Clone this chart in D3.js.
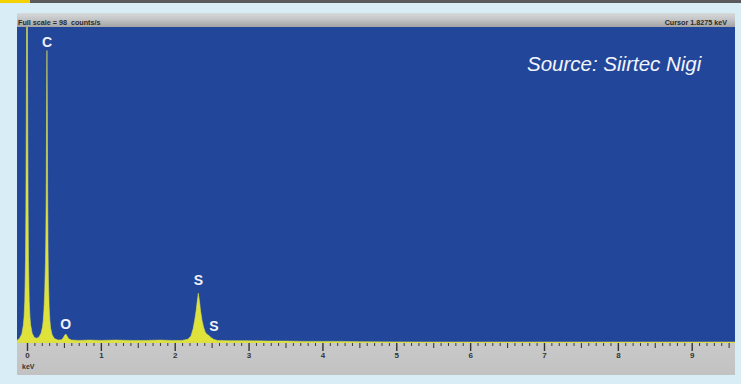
<!DOCTYPE html>
<html>
<head>
<meta charset="utf-8">
<script src="https://cdn.jsdelivr.net/npm/d3@7/dist/d3.min.js"></script>
<style>
  html, body { margin: 0; padding: 0; background: #d9edf7; }
  svg { display: block; }
</style>
</head>
<body>
<svg id="chart" width="741" height="384"></svg>
<script>
// EDS spectrum: energy (keV) and intensity (counts/s)
const spectrumKeV = [
  -0.135, -0.10, -0.07, -0.05, -0.04, -0.03, -0.02, -0.015, -0.01, -0.005,
  0.0, 0.005, 0.01, 0.015, 0.02, 0.03, 0.04, 0.05, 0.07, 0.10,
  0.13, 0.16, 0.19, 0.21, 0.22, 0.23, 0.24, 0.25, 0.255, 0.26,
  0.265, 0.27, 0.275, 0.28, 0.285, 0.29, 0.30, 0.31, 0.32, 0.34,
  0.37, 0.42, 0.47, 0.49, 0.51, 0.525, 0.54, 0.56, 0.60, 0.70,
  0.85, 1.0, 1.2, 1.4, 1.6, 1.8, 1.95, 2.10, 2.18, 2.22,
  2.25, 2.27, 2.29, 2.305, 2.32, 2.335, 2.35, 2.37, 2.39, 2.41,
  2.43, 2.46, 2.49, 2.53, 2.58, 2.75, 3.0, 3.25, 3.5, 3.75,
  4.0, 4.25, 4.5, 5.0, 5.5, 6.0, 6.5, 7.0, 7.5, 8.0,
  8.5, 9.0, 9.6
];
const spectrumCps = [
  0.8, 1.5, 2.8, 5.5, 8, 13, 26, 42, 68, 104,
  130, 104, 68, 42, 26, 13, 8, 5.5, 3.0, 1.7,
  1.5, 1.8, 3.0, 5.0, 7, 10.5, 16, 25, 33, 46,
  72, 91, 72, 45, 29, 20, 11, 7, 4.6, 2.6,
  1.4, 0.9, 1.0, 1.6, 2.4, 2.8, 2.3, 1.4, 0.9, 0.8,
  0.9, 0.8, 0.9, 0.8, 0.8, 0.9, 0.8, 0.8, 1.2, 2.2,
  4.5, 7, 10, 13, 15.5, 13, 10, 7, 5, 3.6,
  2.8, 2.4, 1.7, 1.1, 0.8, 0.7, 0.7, 0.6, 0.6, 0.5,
  0.5, 0.5, 0.4, 0.35, 0.3, 0.3, 0.3, 0.3, 0.3, 0.3,
  0.3, 0.3, 0.3
];

// Element line labels
const peakLabels = ["C", "O", "S", "S"];
const peakLabelKeV = [0.27, 0.525, 2.32, 2.53];
const peakLabelCps = [91, 2.8, 15.5, 2.4];

// Axis ticks
const majorTicks = [0, 1, 2, 3, 4, 5, 6, 7, 8, 9];
const halfTicks = [0.5, 1.5, 2.5, 3.5, 4.5, 5.5, 6.5, 7.5, 8.5, 9.5];
const minorTicks = d3.range(0, 96).map(i => i / 10).filter(v => Math.abs(v * 2 - Math.round(v * 2)) > 0.01);

const fullScale = 98;
const headerLeft = "Full scale = 98  counts/s";
const headerRight = "Cursor 1.8275 keV";
const axisUnit = "keV";
const sourceText = "Source: Siirtec Nigi";

const svg = d3.select("#chart");

// frame geometry
const left = 17, right = 735;
const headTop = 13, plotTop = 27, plotBottom = 343, axisBottom = 375;

const x = d3.scaleLinear().domain([0, 9]).range([27, 691.7]);
const y = d3.scaleLinear().domain([0, fullScale]).range([plotBottom, plotTop + 1]);

// top strip
svg.append("rect").attr("x", 0).attr("y", 0).attr("width", 741).attr("height", 3).attr("fill", "#5a5a5c");
svg.append("rect").attr("x", 0).attr("y", 0).attr("width", 30).attr("height", 3).attr("fill", "#f4d100");

const defs = svg.append("defs");
const hg = defs.append("linearGradient").attr("id", "headGrad").attr("x1", 0).attr("y1", 0).attr("x2", 0).attr("y2", 1);
hg.append("stop").attr("offset", "0%").attr("stop-color", "#d6d9db");
hg.append("stop").attr("offset", "45%").attr("stop-color", "#c4c5c6");
hg.append("stop").attr("offset", "100%").attr("stop-color", "#a3a3a4");
const ag = defs.append("linearGradient").attr("id", "axisGrad").attr("x1", 0).attr("y1", 0).attr("x2", 0).attr("y2", 1);
ag.append("stop").attr("offset", "0%").attr("stop-color", "#c9c9c9");
ag.append("stop").attr("offset", "100%").attr("stop-color", "#c2c2c3");
defs.append("clipPath").attr("id", "plotClip")
  .append("rect").attr("x", left).attr("y", plotTop).attr("width", right - left).attr("height", plotBottom - plotTop);

// header bar
svg.append("rect").attr("x", left).attr("y", headTop).attr("width", right - left).attr("height", plotTop - headTop)
  .attr("fill", "url(#headGrad)");
svg.append("text").attr("x", left + 1).attr("y", 24.5)
  .attr("font-family", "Liberation Sans, Arial, sans-serif").attr("font-weight", "bold").attr("font-size", 7.2)
  .attr("fill", "#2a2a2a").attr("xml:space", "preserve").text(headerLeft);
svg.append("text").attr("x", right - 8).attr("y", 24.5).attr("text-anchor", "end")
  .attr("font-family", "Liberation Sans, Arial, sans-serif").attr("font-weight", "bold").attr("font-size", 7.2)
  .attr("fill", "#2a2a2a").text(headerRight);

// plot background
svg.append("rect").attr("x", left).attr("y", plotTop).attr("width", right - left).attr("height", plotBottom - plotTop)
  .attr("fill", "#22469a");

// axis panel
svg.append("rect").attr("x", left).attr("y", plotBottom).attr("width", right - left).attr("height", axisBottom - plotBottom)
  .attr("fill", "url(#axisGrad)");

// spectrum
const pts = spectrumKeV.map((e, i) => [e, spectrumCps[i]]);
const area = d3.area()
  .x(d => x(d[0]))
  .y0(plotBottom)
  .y1(d => y(d[1]))
  .curve(d3.curveLinear);
svg.append("path").datum(pts)
  .attr("clip-path", "url(#plotClip)")
  .attr("d", area)
  .attr("fill", "#dfe23a")
  .attr("stroke", "#d3dc5a")
  .attr("stroke-width", 0.6);

// axes
function drawTicks(values, size, width) {
  const g = svg.append("g").attr("transform", `translate(0,${plotBottom})`)
    .call(d3.axisBottom(x).tickValues(values).tickSize(size).tickFormat(""));
  g.select(".domain").remove();
  g.selectAll(".tick line").attr("stroke", "#3a3a3a").attr("stroke-width", width);
  return g;
}
drawTicks(minorTicks, 3, 1);
drawTicks(halfTicks, 5, 1.1);
const gMajor = svg.append("g").attr("transform", `translate(0,${plotBottom})`)
  .call(d3.axisBottom(x).tickValues(majorTicks).tickSize(8).tickPadding(1).tickFormat(d3.format("d")));
gMajor.select(".domain").remove();
gMajor.selectAll(".tick line").attr("stroke", "#333").attr("stroke-width", 1.4);
gMajor.selectAll(".tick text")
  .attr("font-family", "Liberation Sans, Arial, sans-serif").attr("font-weight", "bold").attr("font-size", 8)
  .attr("fill", "#333");

svg.append("text").attr("x", 22).attr("y", 368.5)
  .attr("font-family", "Liberation Sans, Arial, sans-serif").attr("font-weight", "bold").attr("font-size", 7)
  .attr("fill", "#333").text(axisUnit);

// element labels
const labelOffsets = [[0, -4], [0, -5], [0, -8], [0, -4]];
svg.selectAll("text.peak").data(peakLabels).enter().append("text")
  .attr("class", "peak")
  .attr("x", (d, i) => x(peakLabelKeV[i]) + labelOffsets[i][0])
  .attr("y", (d, i) => y(peakLabelCps[i]) + labelOffsets[i][1])
  .attr("text-anchor", "middle")
  .attr("font-family", "Liberation Sans, Arial, sans-serif").attr("font-weight", "bold").attr("font-size", 14)
  .attr("fill", "#eef2fa")
  .text(d => d);

// source note
svg.append("text").attr("x", 527).attr("y", 71)
  .attr("font-family", "Liberation Sans, Arial, sans-serif").attr("font-style", "italic").attr("font-size", 20.5)
  .attr("fill", "#f2f5fb").text(sourceText);
</script>
</body>
</html>
